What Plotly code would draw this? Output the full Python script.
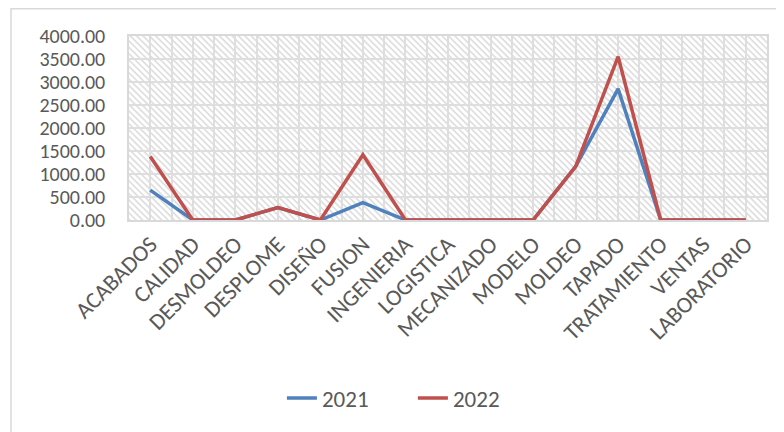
import base64
import plotly.graph_objects as go

categories = ["ACABADOS", "CALIDAD", "DESMOLDEO", "DESPLOME", "DISEÑO", "FUSION",
              "INGENIERIA", "LOGISTICA", "MECANIZADO", "MODELO", "MOLDEO", "TAPADO",
              "TRATAMIENTO", "VENTAS", "LABORATORIO"]
values_2021 = [650, 0, 0, 270, 0, 380, 0, 0, 0, 0, 1160, 2850, 0, 0, 0]
values_2022 = [1380, 0, 0, 270, 0, 1420, 0, 0, 0, 0, 1160, 3550, 0, 0, 0]
series_names = ["2021", "2022"]
y_ticks = [0, 500, 1000, 1500, 2000, 2500, 3000, 3500, 4000]

# page has an 8px body margin, so the figure is sized to fit the window
W, H = 776, 424
L, R, T, B = 121, 17, 28, 212
pw, ph = W - L - R, H - T - B

svg = (f"<svg xmlns='http://www.w3.org/2000/svg' width='{pw}' height='{ph}'>"
       "<defs><pattern id='p' width='4.5' height='4.5' patternUnits='userSpaceOnUse' "
       "patternTransform='rotate(-45)'><line x1='1' y1='0' x2='1' y2='4.5' "
       "stroke='#dcdcdc' stroke-width='1.6'/></pattern></defs>"
       "<rect width='100%' height='100%' fill='white'/>"
       "<rect width='100%' height='100%' fill='url(#p)'/></svg>")
src = "data:image/svg+xml;base64," + base64.b64encode(svg.encode()).decode()

xs = list(range(len(categories)))
font = "Carlito, Lato, sans-serif"
grey = "#595959"

fig = go.Figure()
fig.add_trace(go.Scatter(x=xs, y=values_2021, name=series_names[0], mode="lines",
                         line=dict(color="#4F81BD", width=3.5)))
fig.add_trace(go.Scatter(x=xs, y=values_2022, name=series_names[1], mode="lines",
                         line=dict(color="#C0504D", width=3.5)))

fig.update_layout(
    width=W, height=H,
    margin=dict(l=L, r=R, t=T, b=B, autoexpand=False),
    paper_bgcolor="white",
    plot_bgcolor="rgba(0,0,0,0)",
    font=dict(family=font, color=grey),
    images=[dict(source=src, xref="paper", yref="paper", x=0, y=1, sizex=1, sizey=1,
                 sizing="stretch", layer="below", xanchor="left", yanchor="top")],
    legend=dict(orientation="h", x=0.445, xanchor="center", y=-0.967, yanchor="middle",
                font=dict(size=23, color=grey, family=font), entrywidth=86),
    shapes=[dict(type="rect", xref="paper", yref="paper",
                 x0=-(L - 3) / pw, x1=(W + 20 - L) / pw,
                 y0=-(H + 20 - T - ph) / ph, y1=1 + (T - 0.8) / ph,
                 line=dict(color="#d9d9d9", width=1.5), layer="below")],
)
fig.update_xaxes(
    range=[-0.5, len(categories) - 0.5],
    tickvals=xs, ticktext=categories, tickangle=-45,
    tickfont=dict(size=23, color=grey, family=font),
    showgrid=True, gridcolor="#dedede", gridwidth=1.5,
    minor=dict(tickvals=[i - 0.5 for i in range(len(categories) + 1)],
               showgrid=True, gridcolor="#dedede", gridwidth=1.5),
    showline=True, linecolor="#d9d9d9", linewidth=1.5,
    mirror=True, zeroline=False, ticks="", automargin=False,
)
fig.update_yaxes(
    range=[0, 4000], tickvals=y_ticks, tickformat=".2f",
    tickfont=dict(size=20, color=grey, family=font),
    showgrid=True, gridcolor="#dedede", gridwidth=1.5,
    showline=True, linecolor="#d9d9d9", linewidth=1.5, mirror=True,
    zeroline=False, ticks="", ticklabelstandoff=18, automargin=False,
)

fig.write_html("out.html")
